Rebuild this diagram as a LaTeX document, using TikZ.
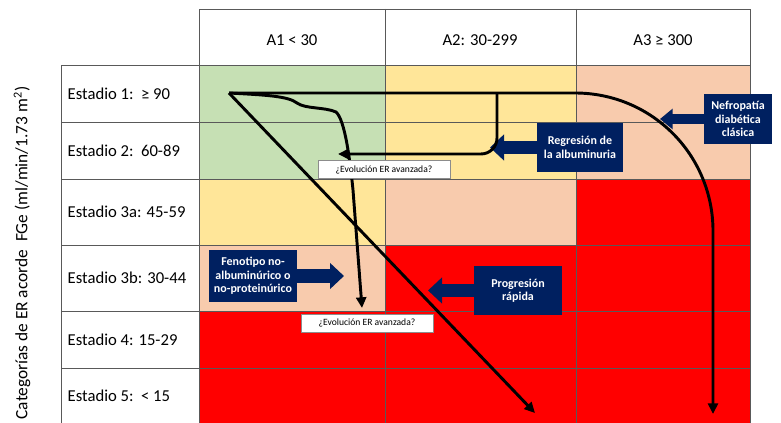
\documentclass[tikz,border=0pt]{standalone}
\usepackage{fontspec}
\setmainfont{Carlito}
\usetikzlibrary{arrows.meta, positioning, calc}
\definecolor{cgreen}{RGB}{198,224,180}
\definecolor{cyellow}{RGB}{255,230,153}
\definecolor{cpeach}{RGB}{248,203,173}
\definecolor{cred}{RGB}{255,0,0}
\definecolor{navy}{RGB}{0,32,96}

\begin{document}
\begin{tikzpicture}[x=0.75pt, y=-0.75pt, >=Stealth, font=\fontsize{12.5}{15}\selectfont,
	gridline/.style={draw=black!65, line width=0.6pt},
	flow/.style={line width=2.2pt, -{Triangle[length=8pt,width=7.5pt]}},
	navybox/.style={fill=navy, text=white, font=\fontsize{9}{10}\selectfont\bfseries, align=center, inner sep=1pt},
	blockarrow/.style={draw=navy, line width=10pt, -{Triangle[length=10.5pt,width=19pt]}},
	askbox/.style={draw=black!45, fill=white, line width=0.4pt, font=\fontsize{7.2}{8}\selectfont, minimum width=99pt, minimum height=13.5pt, inner sep=0pt}]
				\useasboundingbox (0,0) rectangle (781,423);
				
				% coloured cells
				\fill[cgreen] (199,65) rectangle (385,179);
				\fill[cyellow] (385,65) rectangle (576,179);
				\fill[cpeach] (576,65) rectangle (750,179);
				\fill[cyellow] (199,179) rectangle (385,245);
				\fill[cpeach] (385,179) rectangle (576,245);
				\fill[cred] (576,179) rectangle (750,245);
				\fill[cpeach] (199,245) rectangle (385,311);
				\fill[cred] (385,245) rectangle (750,311);
				\fill[cred] (199,311) rectangle (750,423);
				
				% grid
				\draw[gridline] (199,9) rectangle (750,423);
				\draw[gridline] (61,65) rectangle (750,423);
				\draw[gridline] (385,9) -- (385,423);
				\draw[gridline] (576,9) -- (576,423);
				\draw[gridline] (61,122) -- (750,122);
				\draw[gridline] (61,179) -- (750,179);
				\draw[gridline] (61,245) -- (750,245);
				\draw[gridline] (61,311) -- (750,311);
				\draw[gridline] (61,368) -- (750,368);
				
				% headers and stages
				\node (a1) at (292,40) {A1 < 30};
				\node (a2) at (480,40) {A2: 30-299};
				\node (a3) at (663,40) {A3 ≥ 300};
				\node[right] (st1) at (63,94) {Estadio 1:\ \ ≥ 90};
				\node[right] (st2) at (63,151) {Estadio 2:\ \ 60-89};
				\node[right] (st3a) at (63,212) {Estadio 3a: 45-59};
				\node[right] (st3b) at (63,278) {Estadio 3b: 30-44};
				\node[right] (st4) at (63,340) {Estadio 4: 15-29};
				\node[right] (st5) at (63,396) {Estadio 5:\ \ < 15};
				\node[rotate=90, font=\fontsize{13}{15}\selectfont] (ylab) at (22,253) {Categorías de ER acorde\ \ FGe (ml/min/1.73 m\textsuperscript{2})};
				
				% navy labels
				\node[navybox, minimum width=64.5pt, minimum height=36.75pt] (regr) at (580,147.5) {Regresión de\\la albuminuria};
				\node[navybox, minimum width=51pt, minimum height=37.5pt] (nefro) at (738,119) {Nefropatía\\diabética\\clásica};
				\node[navybox, minimum width=66pt, minimum height=39pt] (feno) at (253,276) {Fenotipo no-\\albuminúrico o\\no-proteinúrico};
				\node[navybox, minimum width=66pt, minimum height=36.75pt] (prog) at (518,290.5) {Progresión\\rápida};
				\coordinate (regrtip) at (490,147.5);
				\coordinate (nefrotip) at (660,119);
				\coordinate (fenotip) at (344,276);
				\coordinate (progtip) at (428,290.5);
				\draw[blockarrow] (regr.west) -- (regrtip);
				\draw[blockarrow, line width=7.5pt, -{Triangle[length=9.5pt,width=15pt]}] (nefro.west) -- (nefrotip);
				\draw[blockarrow] (feno.east) -- (fenotip);
				\draw[blockarrow] (prog.west) -- (progtip);
				
				% trajectories
				\coordinate (start) at (229,93);
				\coordinate (bend) at (575,93);
				\coordinate (split) at (497,93);
				\coordinate (endclassic) at (713,414);
				\coordinate (endregr) at (338,154);
				\coordinate (endnonalb) at (362,308);
				\coordinate (endfast) at (535,413);
				\draw[flow] (start) -- (bend) .. controls (652,93) and (713,155) .. (713,231) -- (endclassic);
				\draw[flow, rounded corners=12pt] (split) -- (497,154) -- (endregr);
				\draw[flow] (start) .. controls (265,95) and (288,96) .. (297,103) .. controls (305,109) and (325,107) .. (336,112) .. controls (345,120) and (350,160) .. (353,190) -- (endnonalb);
				\draw[flow] (start) -- (endfast);
				
				\node[askbox] (ask1) at (384,169.5) {¿Evolución ER avanzada?};
				\node[askbox] (ask2) at (367,323) {¿Evolución ER avanzada?};
			\end{tikzpicture}
\end{document}
